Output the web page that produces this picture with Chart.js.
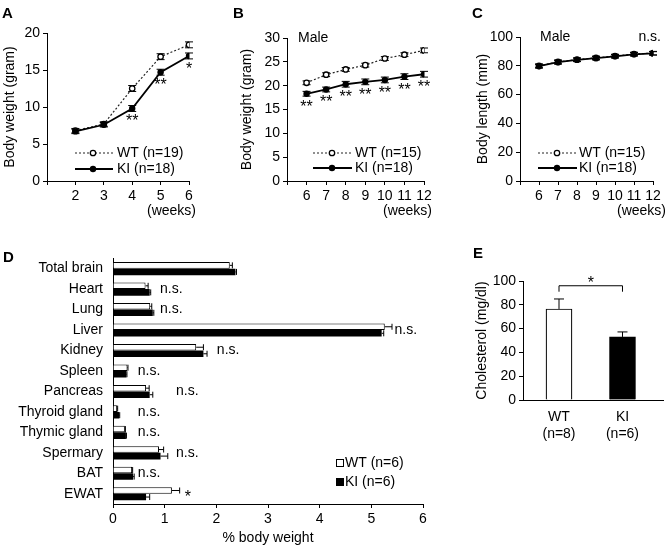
<!DOCTYPE html>
<html>
<head>
<meta charset="utf-8">
<script src="https://cdn.jsdelivr.net/npm/chart.js@4.4.0/dist/chart.umd.min.js"></script>
<style>
  body { margin: 0; background: #fff; }
  #fig { position: relative; width: 668px; height: 547px; background: #fff; overflow: hidden;
         font-family: "Liberation Sans", Arial, sans-serif; }
  canvas { position: absolute; }
  .panel { position: absolute; font-weight: bold; font-size: 15px; line-height: 15px; }
</style>
</head>
<body>
<div id="fig">
  <canvas id="chartA" width="215" height="230" style="left:0;top:0"></canvas>
  <canvas id="chartB" width="220" height="230" style="left:220px;top:0"></canvas>
  <canvas id="chartC" width="228" height="230" style="left:440px;top:0"></canvas>
  <canvas id="chartD" width="440" height="307" style="left:0;top:240px"></canvas>
  <canvas id="chartE" width="218" height="292" style="left:450px;top:255px"></canvas>
  <div class="panel" style="left:2px;top:5px">A</div>
  <div class="panel" style="left:233px;top:5px">B</div>
  <div class="panel" style="left:472px;top:5px">C</div>
  <div class="panel" style="left:3px;top:249px">D</div>
  <div class="panel" style="left:473px;top:245px">E</div>
</div>
<script>
// ---- data ----
const weeksA = [2, 3, 4, 5, 6];
const wtA = [6.8, 7.7, 12.5, 16.8, 18.4];
const wtAErr = [0.3, 0.3, 0.4, 0.4, 0.4];
const kiA = [6.7, 7.6, 9.8, 14.7, 16.9];
const kiAErr = [0.3, 0.3, 0.4, 0.4, 0.4];
const sigA = ['', '', '**', '**', '*'];

const weeksB = [6, 7, 8, 9, 10, 11, 12];
const wtB = [20.6, 22.3, 23.4, 24.3, 25.7, 26.5, 27.4];
const wtBErr = [0.4, 0.4, 0.4, 0.4, 0.4, 0.4, 0.5];
const kiB = [18.3, 19.2, 20.3, 20.8, 21.2, 21.9, 22.4];
const kiBErr = [0.5, 0.5, 0.6, 0.6, 0.6, 0.6, 0.6];
const sigB = ['**', '**', '**', '**', '**', '**', '**'];

const weeksC = [6, 7, 8, 9, 10, 11, 12];
const wtC = [80.0, 82.7, 84.3, 85.5, 86.8, 88.2, 88.8];
const kiC = [79.7, 82.5, 84.1, 85.3, 86.6, 88.0, 88.6];
const errC = [1.3, 1.3, 1.2, 1.2, 1.2, 1.2, 1.2];

const organs = ['Total brain', 'Heart', 'Lung', 'Liver', 'Kidney', 'Spleen', 'Pancreas',
                'Thyroid gland', 'Thymic gland', 'Spermary', 'BAT', 'EWAT'];
const wtD = [2.26, 0.63, 0.72, 5.26, 1.61, 0.28, 0.64, 0.08, 0.23, 0.89, 0.37, 1.14];
const wtDErr = [0.05, 0.05, 0.03, 0.14, 0.14, 0.01, 0.06, 0.01, 0.01, 0.09, 0.01, 0.15];
const kiD = [2.37, 0.71, 0.77, 5.20, 1.75, 0.26, 0.71, 0.12, 0.25, 0.92, 0.39, 0.64];
const kiDErr = [0.02, 0.02, 0.02, 0.04, 0.07, 0.01, 0.06, 0.01, 0.01, 0.14, 0.02, 0.07];
const sigD = ['', 'n.s.', 'n.s.', 'n.s.', 'n.s.', 'n.s.', 'n.s.', 'n.s.', 'n.s.', 'n.s.', 'n.s.', '*'];
const sigDAt = [0, 0.91, 0.91, 5.45, 2.01, 0.48, 1.22, 0.48, 0.48, 1.22, 0.48, 1.39];

const groupsE = ['WT', 'KI'];
const groupsEn = ['(n=8)', '(n=6)'];
const cholE = [76.5, 53.0];
const cholEErr = [8.4, 4.2];

// ---- shared bits ----
const FONT = '"Liberation Sans", Arial, sans-serif';
Chart.defaults.font.family = FONT;
Chart.defaults.font.size = 14;
Chart.defaults.color = '#000';
Chart.defaults.animation = false;

const errorBarPlugin = {
  id: 'errorBars',
  beforeDatasetsDraw(chart, args, opts) { if (opts.under) drawErrors(chart, opts); },
  afterDatasetsDraw(chart, args, opts) { if (!opts.under) drawErrors(chart, opts); }
};

function drawErrors(chart, opts) {
  const ctx = chart.ctx;
  const horiz = chart.options.indexAxis === 'y';
  const vScale = horiz ? chart.scales.x : chart.scales.y;
  ctx.save();
  ctx.strokeStyle = '#000';
  ctx.lineWidth = opts.width || 1;
  chart.data.datasets.forEach((ds, i) => {
    if (!ds.errorBars) return;
    const meta = chart.getDatasetMeta(i);
    meta.data.forEach((el, j) => {
      const raw = ds.data[j];
      const v = typeof raw === 'object' ? raw.y : raw;
      const e = ds.errorBars[j];
      const hi = vScale.getPixelForValue(v + e);
      const lo = opts.both ? vScale.getPixelForValue(v - e) : vScale.getPixelForValue(v);
      const c = opts.cap / 2;
      ctx.beginPath();
      if (horiz) {
        ctx.moveTo(lo, el.y); ctx.lineTo(hi, el.y);
        ctx.moveTo(hi, el.y - c); ctx.lineTo(hi, el.y + c);
      } else {
        ctx.moveTo(el.x, lo); ctx.lineTo(el.x, hi);
        ctx.moveTo(el.x - c, hi); ctx.lineTo(el.x + c, hi);
        if (opts.both) { ctx.moveTo(el.x - c, lo); ctx.lineTo(el.x + c, lo); }
      }
      ctx.stroke();
    });
  });
  ctx.restore();
}

// stars under a dataset's points
const sigPlugin = {
  id: 'sig',
  afterDatasetsDraw(chart, args, opts) {
    if (!opts.labels) return;
    const ctx = chart.ctx;
    const meta = chart.getDatasetMeta(opts.dataset);
    ctx.save();
    ctx.font = '16px ' + FONT;
    ctx.fillStyle = '#000';
    ctx.textAlign = 'center';
    ctx.textBaseline = 'alphabetic';
    meta.data.forEach((el, j) => {
      if (opts.labels[j]) ctx.fillText(opts.labels[j], el.x, el.y + opts.dy);
    });
    ctx.restore();
  }
};

// free text + line legends
const notesPlugin = {
  id: 'notes',
  afterDraw(chart, args, opts) {
    const ctx = chart.ctx;
    ctx.save();
    ctx.font = '14px ' + FONT;
    ctx.fillStyle = '#000';
    ctx.textBaseline = 'middle';
    (opts.texts || []).forEach(t => {
      ctx.textAlign = t.align || 'left';
      ctx.fillText(t.text, t.x, t.y);
    });
    if (opts.legend) {
      const L = opts.legend;
      // WT row
      ctx.strokeStyle = '#222'; ctx.lineWidth = 1.2; ctx.setLineDash([2, 2]);
      ctx.beginPath(); ctx.moveTo(L.x0, L.y1); ctx.lineTo(L.x1, L.y1); ctx.stroke();
      ctx.setLineDash([]);
      ctx.fillStyle = '#fff'; ctx.strokeStyle = '#000'; ctx.lineWidth = 1.3;
      ctx.beginPath(); ctx.arc(L.xm, L.y1, 2.7, 0, Math.PI * 2); ctx.fill(); ctx.stroke();
      // KI row
      ctx.lineWidth = 1.8;
      ctx.beginPath(); ctx.moveTo(L.x0, L.y2); ctx.lineTo(L.x1, L.y2); ctx.stroke();
      ctx.fillStyle = '#000';
      ctx.beginPath(); ctx.arc(L.xm, L.y2, 3.2, 0, Math.PI * 2); ctx.fill();
      ctx.textAlign = 'left';
      ctx.fillText(L.wt, L.xt, L.y1);
      ctx.fillText(L.ki, L.xt, L.y2);
    }
    ctx.restore();
  }
};

function axisLines() {
  return {
    grid: { display: true, drawOnChartArea: false, drawTicks: true, tickLength: 4, color: '#000', lineWidth: 1 },
    border: { display: true, color: '#000', width: 1 }
  };
}

function wtSet(xs, ys, errs) {
  return {
    label: 'WT', data: xs.map((x, i) => ({ x: x, y: ys[i] })), errorBars: errs,
    borderColor: '#222', borderWidth: 1.2, borderDash: [2, 2],
    pointRadius: 2.7, pointBackgroundColor: '#fff', pointBorderColor: '#000', pointBorderWidth: 1.3,
    order: 1
  };
}
function kiSet(xs, ys, errs) {
  return {
    label: 'KI', data: xs.map((x, i) => ({ x: x, y: ys[i] })), errorBars: errs,
    borderColor: '#000', borderWidth: 1.8,
    pointRadius: 3.2, pointBackgroundColor: '#000', pointBorderColor: '#000', pointBorderWidth: 0,
    order: 0
  };
}

function lineChart(id, cfg) {
  return new Chart(document.getElementById(id), {
    type: 'line',
    data: { datasets: cfg.datasets },
    plugins: [errorBarPlugin, sigPlugin, notesPlugin],
    options: {
      responsive: false,
      devicePixelRatio: 1,
      layout: { padding: cfg.padding },
      scales: {
        x: Object.assign(axisLines(), {
          type: 'linear', min: cfg.xMin, max: cfg.xMax,
          ticks: { stepSize: 1, autoSkip: false, maxRotation: 0, padding: 3,
                   callback: v => (v === cfg.xMin ? '' : v) },
          afterFit: s => { s.height = cfg.xH; }
        }),
        y: Object.assign(axisLines(), {
          min: 0, max: cfg.yMax,
          ticks: { stepSize: cfg.yStep, padding: 3 },
          title: { display: true, text: cfg.yTitle, padding: { top: 2, bottom: 2 } },
          afterFit: s => { s.width = cfg.yW; }
        })
      },
      plugins: {
        legend: { display: false },
        tooltip: { enabled: false },
        errorBars: { under: true, both: true, cap: 8, width: 1 },
        sig: cfg.sig || {},
        notes: cfg.notes
      }
    }
  });
}

// ---- A ----
lineChart('chartA', {
  datasets: [wtSet(weeksA, wtA, wtAErr), kiSet(weeksA, kiA, kiAErr)],
  padding: { left: 0, top: 33, right: 26, bottom: 0 },
  xMin: 1, xMax: 6, xH: 49, yW: 47, yMax: 20, yStep: 5,
  yTitle: 'Body weight (gram)',
  sig: { dataset: 1, labels: sigA, dy: 18 },
  notes: {
    texts: [{ text: '(weeks)', x: 196, y: 211, align: 'right' }],
    legend: { x0: 75, x1: 113, xm: 93, xt: 117, y1: 153, y2: 169, wt: 'WT (n=19)', ki: 'KI (n=18)' }
  }
});

// ---- B ----
lineChart('chartB', {
  datasets: [wtSet(weeksB, wtB, wtBErr), kiSet(weeksB, kiB, kiBErr)],
  padding: { left: 17, top: 38, right: 16, bottom: 0 },
  xMin: 5, xMax: 12, xH: 49, yW: 50, yMax: 30, yStep: 5,
  yTitle: 'Body weight (gram)',
  sig: { dataset: 1, labels: sigB, dy: 18 },
  notes: {
    texts: [{ text: 'Male', x: 78, y: 38 }, { text: '(weeks)', x: 212, y: 211, align: 'right' }],
    legend: { x0: 93, x1: 132, xm: 112, xt: 135, y1: 153, y2: 168, wt: 'WT (n=15)', ki: 'KI (n=18)' }
  }
});

// ---- C ----
lineChart('chartC', {
  datasets: [wtSet(weeksC, wtC, errC), kiSet(weeksC, kiC, errC)],
  padding: { left: 33, top: 37, right: 15, bottom: 0 },
  xMin: 5, xMax: 12, xH: 49, yW: 47, yMax: 100, yStep: 20,
  yTitle: 'Body length (mm)',
  notes: {
    texts: [{ text: 'Male', x: 100, y: 37 }, { text: 'n.s.', x: 221, y: 37, align: 'right' },
            { text: '(weeks)', x: 226, y: 211, align: 'right' }],
    legend: { x0: 98, x1: 137, xm: 117, xt: 139, y1: 153, y2: 168, wt: 'WT (n=15)', ki: 'KI (n=18)' }
  }
});

// ---- D ----
const sigDPlugin = {
  id: 'sigD',
  afterDatasetsDraw(chart) {
    const ctx = chart.ctx, xs = chart.scales.x, ys = chart.scales.y;
    ctx.save();
    ctx.fillStyle = '#000';
    ctx.textAlign = 'left';
    sigD.forEach((t, i) => {
      if (!t) return;
      const y = ys.getPixelForValue(i);
      const star = t === '*';
      ctx.font = (star ? '16px ' : '14px ') + FONT;
      ctx.textBaseline = star ? 'alphabetic' : 'middle';
      ctx.fillText(t, xs.getPixelForValue(sigDAt[i]), star ? y + 8 : y);
    });
    // legend boxes
    ctx.font = '14px ' + FONT;
    const lx = 336, ly = [223, 242];
    ['WT (n=6)', 'KI (n=6)'].forEach((t, k) => {
      ctx.fillStyle = k ? '#000' : '#fff';
      ctx.fillRect(lx, ly[k] - 4, 8, 8);
      ctx.strokeStyle = '#000'; ctx.lineWidth = 1;
      ctx.strokeRect(lx + 0.5, ly[k] - 3.5, 7, 7);
      ctx.fillStyle = '#000';
      ctx.textBaseline = 'middle';
      ctx.fillText(t, lx + 9, ly[k]);
    });
    ctx.restore();
  }
};

new Chart(document.getElementById('chartD'), {
  type: 'bar',
  data: {
    labels: organs,
    datasets: [
      { label: 'WT', data: wtD, errorBars: wtDErr, backgroundColor: '#fff', borderColor: '#000', borderWidth: 1 },
      { label: 'KI', data: kiD, errorBars: kiDErr, backgroundColor: '#000', borderColor: '#000', borderWidth: 0 }
    ]
  },
  plugins: [errorBarPlugin, sigDPlugin],
  options: {
    indexAxis: 'y',
    responsive: false,
    devicePixelRatio: 1,
    layout: { padding: { left: 0, top: 8, right: 17, bottom: 0 } },
    datasets: { bar: { categoryPercentage: 0.64, barPercentage: 1.0 } },
    scales: {
      x: Object.assign(axisLines(), {
        type: 'linear', min: 0, max: 6,
        ticks: { stepSize: 1, padding: 3, maxRotation: 0 },
        title: { display: true, text: '% body weight', padding: { top: 0, bottom: 0 } },
        afterFit: s => { s.height = 43; }
      }),
      y: {
        grid: { display: false, drawTicks: false },
        border: { display: true, color: '#000', width: 1 },
        ticks: { autoSkip: false, padding: 10 },
        afterFit: s => { s.width = 113; }
      }
    },
    plugins: {
      legend: { display: false },
      tooltip: { enabled: false },
      errorBars: { under: false, both: false, cap: 6, width: 1 }
    }
  }
});

// ---- E ----
const bracketPlugin = {
  id: 'bracket',
  afterDatasetsDraw(chart) {
    const ctx = chart.ctx, xs = chart.scales.x, ys = chart.scales.y;
    const x1 = xs.getPixelForValue(0), x2 = xs.getPixelForValue(1);
    const y = ys.getPixelForValue(96), yd = ys.getPixelForValue(91);
    ctx.save();
    ctx.strokeStyle = '#000'; ctx.lineWidth = 1;
    ctx.beginPath();
    ctx.moveTo(x1, yd); ctx.lineTo(x1, y); ctx.lineTo(x2, y); ctx.lineTo(x2, yd);
    ctx.stroke();
    ctx.font = '16px ' + FONT; ctx.fillStyle = '#000';
    ctx.textAlign = 'center'; ctx.textBaseline = 'alphabetic';
    ctx.fillText('*', (x1 + x2) / 2, y + 2);
    ctx.restore();
  }
};

new Chart(document.getElementById('chartE'), {
  type: 'bar',
  data: {
    datasets: [{
      label: 'Cholesterol',
      data: groupsE.map((g, i) => ({ x: i, y: cholE[i] })),
      errorBars: cholEErr,
      backgroundColor: ['#fff', '#000'], borderColor: '#000', borderWidth: 1.2,
      barThickness: 26
    }]
  },
  plugins: [errorBarPlugin, bracketPlugin],
  options: {
    responsive: false,
    devicePixelRatio: 1,
    layout: { padding: { left: 22, top: 26, right: 5, bottom: 0 } },
    scales: {
      x: {
        type: 'linear', min: -0.567, max: 1.638, offset: false, bounds: 'data',
        grid: { display: false, drawTicks: false, offset: false },
        border: { display: true, color: '#000', width: 1 },
        afterBuildTicks: s => { s.ticks = groupsE.map((g, i) => ({ value: i })); },
        ticks: { padding: 9, maxRotation: 0, callback: v => [groupsE[v], groupsEn[v]] },
        afterFit: s => { s.height = 147; }
      },
      y: Object.assign(axisLines(), {
        min: 0, max: 100,
        ticks: { stepSize: 20, padding: 3 },
        title: { display: true, text: 'Cholesterol (mg/dl)', padding: { top: 2, bottom: 2 } },
        afterFit: s => { s.width = 51; }
      })
    },
    plugins: {
      legend: { display: false },
      tooltip: { enabled: false },
      errorBars: { under: false, both: false, cap: 10, width: 1 }
    }
  }
});
</script>
</body>
</html>
